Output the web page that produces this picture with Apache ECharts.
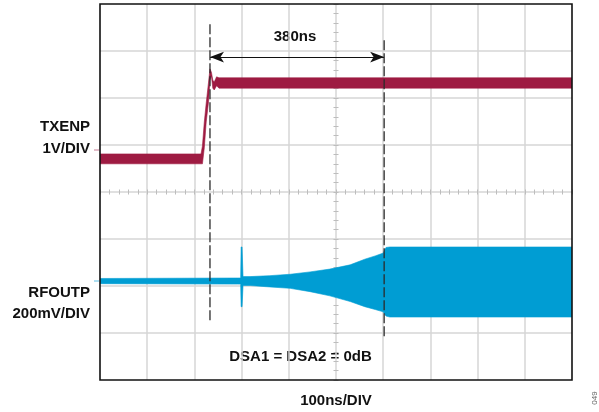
<!DOCTYPE html>
<html><head><meta charset="utf-8">
<script src="https://cdn.jsdelivr.net/npm/echarts@6/dist/echarts.min.js"></script>
<style>html,body{margin:0;padding:0;background:#fff}#c{width:599px;height:412px}</style>
</head><body><div id="c"></div>
<script>
// Time axis (ns), 100 ns/div, 10 divisions
const timeMin = 0, timeMax = 1000, timeStep = 100;
// Vertical axis in screen divisions, centre = 0
const divMin = -4, divMax = 4, divStep = 1;

// TXENP trace (upper / lower edge of the noisy trace, in divisions)
const txTime  = [0, 214, 217, 221, 225, 230, 233, 236, 239, 242, 247, 252, 1000];
const txUpper = [0.81, 0.81, 0.98, 1.49, 1.89, 2.34, 2.62, 2.55, 2.38, 2.34, 2.45, 2.43, 2.43];
const txLower = [0.60, 0.60, 0.60, 0.94, 1.49, 1.92, 2.38, 2.47, 2.21, 2.17, 2.26, 2.21, 2.21];

// RFOUTP burst envelope (upper / lower, in divisions)
const rfTime  = [0, 292, 298, 299, 301, 303, 318, 360, 403, 445, 487, 530, 561, 583, 600, 603, 606, 614, 1000];
const rfUpper = [-1.84, -1.83, -1.83, -1.17, -1.17, -1.80, -1.80, -1.78, -1.75, -1.70, -1.64, -1.55, -1.43, -1.36, -1.30, -1.23, -1.18, -1.17, -1.17];
const rfLower = [-1.95, -1.96, -1.96, -2.44, -2.44, -1.99, -1.99, -2.02, -2.05, -2.12, -2.21, -2.33, -2.44, -2.50, -2.55, -2.60, -2.64, -2.66, -2.66];

// Cursor markers
const markerTime   = [233, 602];
const markerTop    = [3.57, 3.23];
const markerBottom = [-2.78, -3.11];
const arrowLevel   = 2.87;
const spanLabel    = '380ns';

const txColor = '#9e1b42';
const rfColor = '#009dd3';
const gridColor = '#d6d6d6';
const FONT = '"Liberation Sans", Arial, sans-serif';

function band(name, t, up, lo, color) {
  return {
    type: 'custom', name: name, silent: true, clip: true, z: 3,
    data: t.map((x, i) => [x, up[i], lo[i]]),
    encode: { x: 0, y: [1, 2] },
    renderItem: function (params, api) {
      if (params.dataIndex !== 0) return null;
      const pts = [];
      for (let i = 0; i < t.length; i++) pts.push(api.coord([t[i], up[i]]));
      for (let i = t.length - 1; i >= 0; i--) pts.push(api.coord([t[i], lo[i]]));
      return {
        type: 'polygon', shape: { points: pts },
        style: { fill: color, stroke: color, lineWidth: 0.6 }
      };
    }
  };
}

function tickAxis(kind, inside) {
  const base = {
    type: 'value', gridIndex: 0, silent: true,
    min: kind === 'x' ? timeMin : divMin, max: kind === 'x' ? timeMax : divMax,
    interval: kind === 'x' ? timeStep : divStep,
    axisLine: { show: false }, axisLabel: { show: false }, splitLine: { show: false },
    axisTick: { show: true, inside: inside, length: 2.5, lineStyle: { color: '#bdbdbd', width: 1 } },
    minorTick: { show: true, splitNumber: 5, length: 2.5, lineStyle: { color: '#bdbdbd', width: 1 } }
  };
  if (kind === 'x') { base.position = 'bottom'; base.offset = -188; }
  else { base.position = 'left'; base.offset = -236; }
  return base;
}

const series = [];
series.push(band('TXENP', txTime, txUpper, txLower, txColor));
series.push(band('RFOUTP', rfTime, rfUpper, rfLower, rfColor));
markerTime.forEach((t, i) => {
  const s = {
    type: 'line', data: [[t, markerTop[i]], [t, markerBottom[i]]], symbol: 'none', silent: true, z: 6,
    lineStyle: { color: '#2a2a2a', width: 1.3, type: [10, 3] }
  };
  if (i === 0) {
    s.markLine = {
      silent: true, symbol: ['arrow', 'arrow'], symbolSize: [8, 14],
      lineStyle: { color: '#111', width: 1, type: 'solid' }, label: { show: false },
      data: [[{ coord: [markerTime[0], arrowLevel] }, { coord: [markerTime[1], arrowLevel] }]]
    };
  }
  series.push(s);
});

const txtStyle = (text, align) => ({ text: text, font: 'bold 15px ' + FONT, fill: '#111', textAlign: align, textVerticalAlign: 'middle' });

const option = {
  animation: false,
  backgroundColor: '#fff',
  grid: { left: 100, top: 4, width: 472, height: 376, show: true, borderColor: '#111', borderWidth: 1.6, backgroundColor: 'transparent', z: 10 },
  xAxis: [
    { type: 'value', min: timeMin, max: timeMax, interval: timeStep,
      axisLine: { show: false }, axisTick: { show: false }, axisLabel: { show: false },
      splitLine: { show: true, showMinLine: false, showMaxLine: false, lineStyle: { color: gridColor, width: 1.5 } } },
    tickAxis('x', true), tickAxis('x', false)
  ],
  yAxis: [
    { type: 'value', min: divMin, max: divMax, interval: divStep,
      axisLine: { show: false }, axisTick: { show: false }, axisLabel: { show: false },
      splitLine: { show: true, showMinLine: false, showMaxLine: false, lineStyle: { color: gridColor, width: 1.5 } } },
    tickAxis('y', true), tickAxis('y', false)
  ],
  series: series,
  graphic: [
    { type: 'text', x: 90, y: 127, style: txtStyle('TXENP', 'right') },
    { type: 'text', x: 90, y: 148.5, style: txtStyle('1V/DIV', 'right') },
    { type: 'text', x: 90, y: 293, style: txtStyle('RFOUTP', 'right') },
    { type: 'text', x: 90, y: 313.5, style: txtStyle('200mV/DIV', 'right') },
    { type: 'text', x: 295, y: 37, style: txtStyle(spanLabel, 'center') },
    { type: 'text', x: 300.5, y: 357, style: txtStyle('DSA1 = DSA2 = 0dB', 'center') },
    { type: 'text', x: 336, y: 401, style: txtStyle('100ns/DIV', 'center') },
    { type: 'text', x: 595, y: 398, rotation: Math.PI / 2,
      style: { text: '049', font: '8px ' + FONT, fill: '#666', textAlign: 'center', textVerticalAlign: 'middle' } },
    { type: 'line', shape: { x1: 94, y1: 150, x2: 99, y2: 150 }, style: { stroke: '#c77b93', lineWidth: 1 } },
    { type: 'line', shape: { x1: 94, y1: 281, x2: 99, y2: 281 }, style: { stroke: '#5abde3', lineWidth: 1 } }
  ]
};

const chart = echarts.init(document.getElementById('c'), null, { renderer: 'canvas' });
chart.setOption(option);
</script>
</body></html>
